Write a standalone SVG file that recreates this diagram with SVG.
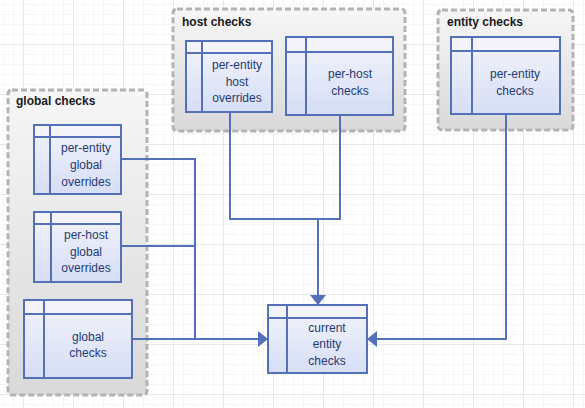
<svg xmlns="http://www.w3.org/2000/svg" width="585" height="408" viewBox="0 0 585 408">
<defs>
<pattern id="minor" x="3" y="4" width="10" height="10" patternUnits="userSpaceOnUse">
<path d="M0 0H10M0 0V10" fill="none" stroke="#ededed" stroke-width="1"/>
</pattern>
<pattern id="major" x="23" y="44" width="50" height="50" patternUnits="userSpaceOnUse">
<path d="M0 0H50M0 0V50" fill="none" stroke="#dadada" stroke-width="1"/>
</pattern>
<linearGradient id="cg" x1="0" y1="0" x2="0" y2="1">
<stop offset="0" stop-color="#f6f6f6"/>
<stop offset="1" stop-color="#d9d9d9"/>
</linearGradient>
<linearGradient id="bg" x1="0" y1="0" x2="0" y2="1">
<stop offset="0" stop-color="#f3f4fb"/>
<stop offset="1" stop-color="#d6def6"/>
</linearGradient>
<marker id="arr" viewBox="0 0 10 16" refX="10" refY="8" markerWidth="10" markerHeight="16" markerUnits="userSpaceOnUse" orient="auto">
<path d="M0 0L10 8L0 16Z" fill="#5470b8"/>
</marker>
</defs>
<style>
.cont{fill:url(#cg);stroke:#b3b3b3;stroke-width:3;stroke-dasharray:6 3}
.box{fill:url(#bg);stroke:#5470b8;stroke-width:2}
.hdr{fill:#f3f3f9;stroke:#5470b8;stroke-width:2}
.ln{stroke:#5470b8;stroke-width:2;fill:none}
.t{font-family:"Liberation Sans",Arial,sans-serif;font-size:12px;fill:#1f3a73;text-anchor:middle}
.ct{font-family:"Liberation Sans",Arial,sans-serif;font-size:12px;font-weight:bold;fill:#1a1a1a}
</style>
<rect width="585" height="408" fill="#ffffff"/>
<rect width="585" height="408" fill="url(#minor)"/>
<rect width="585" height="408" fill="url(#major)"/>

<g id="global-checks">
<rect class="cont" x="8" y="90" width="139" height="305" rx="4"/>
<text class="ct" x="16" y="105">global checks</text>
</g>
<g id="host-checks">
<rect class="cont" x="173" y="9" width="232" height="122" rx="4"/>
<text class="ct" x="182" y="26">host checks</text>
</g>
<g id="entity-checks">
<rect class="cont" x="438" y="10" width="135" height="120" rx="4"/>
<text class="ct" x="447" y="26">entity checks</text>
</g>

<g id="per-entity-global-overrides">
<rect class="box" x="34" y="125" width="87" height="69"/>
<rect class="hdr" x="34" y="125" width="87" height="12"/>
<path class="ln" d="M50 125V194"/>
<text class="t" x="86" y="152">per-entity</text>
<text class="t" x="86" y="169">global</text>
<text class="t" x="86" y="186">overrides</text>
</g>
<g id="per-host-global-overrides">
<rect class="box" x="34" y="212" width="87" height="70"/>
<rect class="hdr" x="34" y="212" width="87" height="12"/>
<path class="ln" d="M51 212V282"/>
<text class="t" x="86" y="239">per-host</text>
<text class="t" x="86" y="256">global</text>
<text class="t" x="86" y="272">overrides</text>
</g>
<g id="global-checks-table">
<rect class="box" x="24" y="300" width="108" height="78"/>
<rect class="hdr" x="24" y="300" width="108" height="14"/>
<path class="ln" d="M44 300V378"/>
<text class="t" x="88" y="341">global</text>
<text class="t" x="88" y="357">checks</text>
</g>
<g id="per-entity-host-overrides">
<rect class="box" x="186" y="41" width="86" height="71"/>
<rect class="hdr" x="186" y="41" width="86" height="12"/>
<path class="ln" d="M202 41V112"/>
<text class="t" x="237" y="69">per-entity</text>
<text class="t" x="237" y="86">host</text>
<text class="t" x="237" y="102">overrides</text>
</g>
<g id="per-host-checks">
<rect class="box" x="286" y="37" width="107" height="78"/>
<rect class="hdr" x="286" y="37" width="107" height="15"/>
<path class="ln" d="M306 37V115"/>
<text class="t" x="350" y="78">per-host</text>
<text class="t" x="350" y="95">checks</text>
</g>
<g id="per-entity-checks">
<rect class="box" x="451" y="37" width="109" height="77"/>
<rect class="hdr" x="451" y="37" width="109" height="14"/>
<path class="ln" d="M472 37V114"/>
<text class="t" x="515" y="78">per-entity</text>
<text class="t" x="515" y="95">checks</text>
</g>
<g id="current-entity-checks">
<rect class="box" x="268" y="305" width="99" height="68"/>
<rect class="hdr" x="268" y="305" width="99" height="13"/>
<path class="ln" d="M287 305V373"/>
<text class="t" x="327" y="332">current</text>
<text class="t" x="327" y="348">entity</text>
<text class="t" x="327" y="365">checks</text>
</g>

<g id="connectors">
<path class="ln" d="M121 159H195V339"/>
<path class="ln" d="M121 246H195"/>
<path class="ln" d="M132 339H268" marker-end="url(#arr)"/>
<path class="ln" d="M230 112V219H340V115"/>
<path class="ln" d="M318 219V305" marker-end="url(#arr)"/>
<path class="ln" d="M506 114V339H367" marker-end="url(#arr)"/>
</g>
</svg>
